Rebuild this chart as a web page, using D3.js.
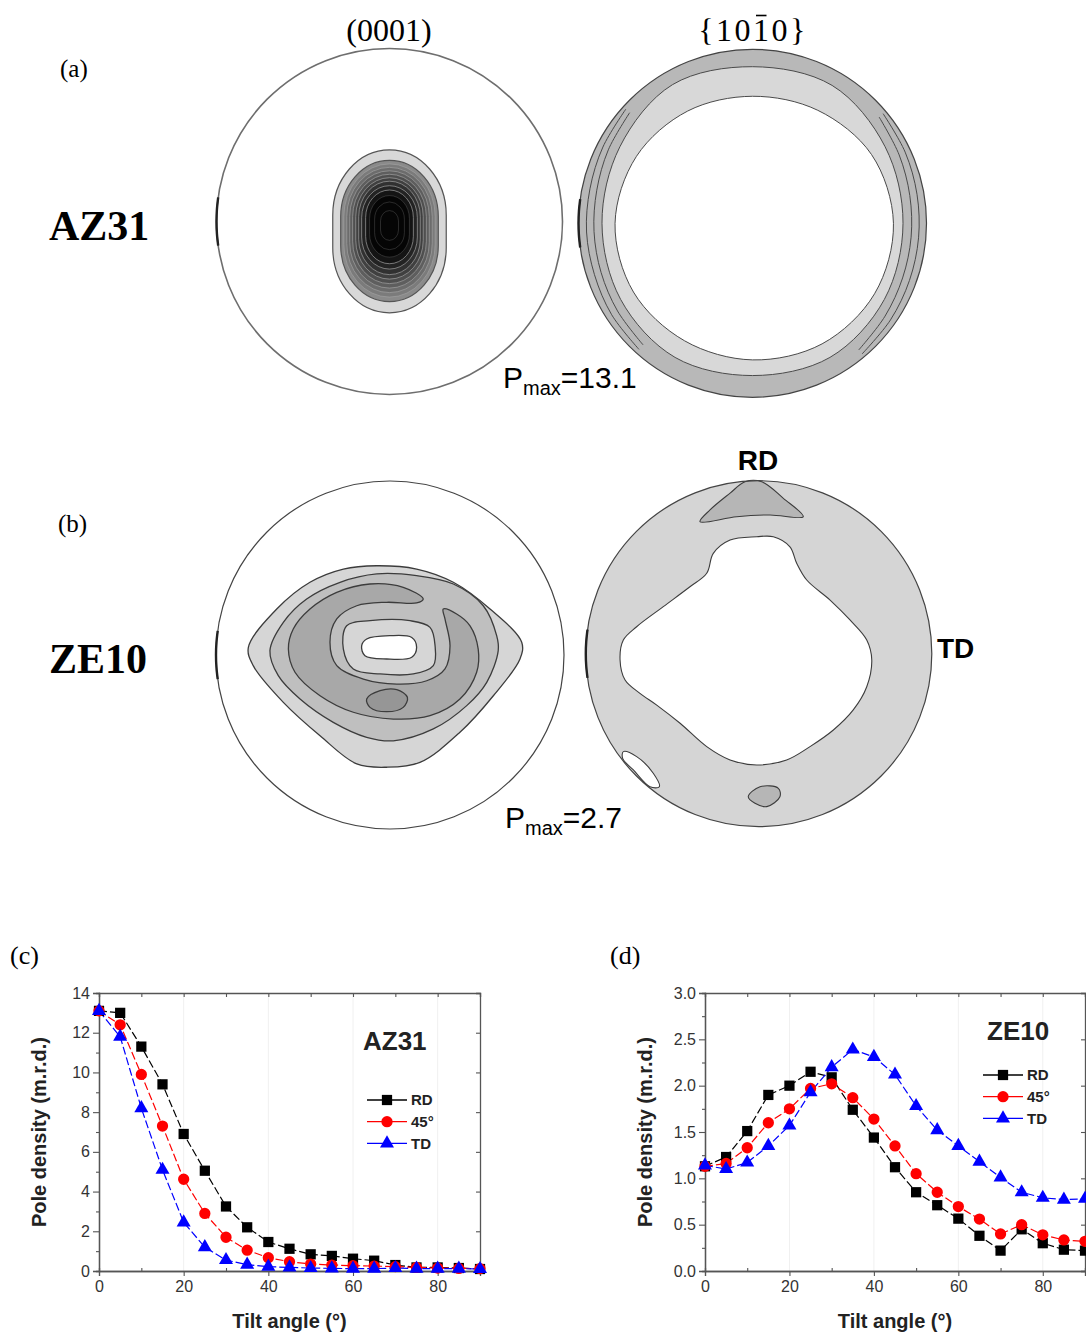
<!DOCTYPE html>
<html>
<head>
<meta charset="utf-8">
<script src="https://cdn.jsdelivr.net/npm/d3@7"></script>
<style>
  body { margin: 0; background: #fff; }
  svg { display: block; }
</style>
</head>
<body>
<div id="fig"></div>
<script>
// Pole figures (a, b) and pole density vs tilt angle curves (c, d)

const serif = "'Liberation Serif','Times New Roman',serif";
const sans = "'Liberation Sans',Arial,sans-serif";

// ---- (c)/(d) data: pole density (m.r.d.) vs tilt angle ----
const tiltAngles = [0, 5, 10, 15, 20, 25, 30, 35, 40, 45, 50, 55, 60, 65, 70, 75, 80, 85, 90];
const az31RD  = [13.1, 13.0, 11.3, 9.4, 6.9, 5.05, 3.25, 2.2, 1.46, 1.12, 0.84, 0.76, 0.62, 0.52, 0.30, 0.18, 0.18, 0.15, 0.10];
const az31D45 = [13.1, 12.4, 9.9, 7.3, 4.62, 2.9, 1.7, 1.05, 0.67, 0.47, 0.35, 0.30, 0.27, 0.25, 0.22, 0.18, 0.15, 0.13, 0.12];
const az31TD  = [13.1, 11.8, 8.2, 5.1, 2.45, 1.2, 0.55, 0.32, 0.22, 0.18, 0.15, 0.13, 0.12, 0.12, 0.15, 0.12, 0.12, 0.12, 0.10];
const ze10RD  = [1.13, 1.23, 1.51, 1.90, 2.00, 2.15, 2.09, 1.74, 1.44, 1.12, 0.85, 0.71, 0.565, 0.38, 0.22, 0.45, 0.30, 0.23, 0.22];
const ze10D45 = [1.13, 1.16, 1.33, 1.60, 1.75, 1.97, 2.02, 1.87, 1.64, 1.35, 1.05, 0.85, 0.695, 0.56, 0.40, 0.50, 0.39, 0.335, 0.32];
const ze10TD  = [1.14, 1.10, 1.17, 1.35, 1.57, 1.93, 2.20, 2.39, 2.31, 2.12, 1.78, 1.52, 1.35, 1.18, 1.01, 0.85, 0.79, 0.77, 0.78];

const seriesNames = ["RD", "45°", "TD"];
const seriesColors = ["#000000", "#ff0000", "#0000ff"];
const seriesSymbols = [d3.symbolSquare, d3.symbolCircle, d3.symbolTriangle];
const seriesSymbolSize = [105, 100, 85];

const tiltTicks = [0, 20, 40, 60, 80];
const tiltMinor = [10, 30, 50, 70, 90];
const az31YTicks = [0, 2, 4, 6, 8, 10, 12, 14];
const az31YMinor = [1, 3, 5, 7, 9, 11, 13];
const ze10YTicks = [0, 0.5, 1.0, 1.5, 2.0, 2.5, 3.0];
const ze10YMinor = [0.25, 0.75, 1.25, 1.75, 2.25, 2.75];

// ---- (a) AZ31 (0001): nested oval contours, units = pole figure radius ----
const az31BasalLevels = [1, 2, 3, 4, 5, 6, 7, 8, 9, 10, 11, 12, 13];
const az31BasalHalfW  = [0.328, 0.282, 0.264, 0.247, 0.230, 0.213, 0.195, 0.178, 0.161, 0.138, 0.115, 0.086, 0.052];
const az31BasalHalfH  = [0.471, 0.408, 0.385, 0.362, 0.339, 0.316, 0.293, 0.270, 0.241, 0.213, 0.178, 0.138, 0.086];
const az31BasalCy     = [0.057, 0.055, 0.052, 0.049, 0.046, 0.043, 0.040, 0.037, 0.034, 0.031, 0.028, 0.025, 0.023];

// ---- (a) AZ31 {10-10}: radial contours, angle from RD clockwise ----
const ringAngles     = [0, 30, 60, 90, 120, 150, 180, 210, 240, 270, 300, 330];
const az31PrismLight = [0.90, 0.915, 0.88, 0.865, 0.875, 0.89, 0.875, 0.89, 0.875, 0.865, 0.88, 0.92];
const az31PrismWhite = [0.73, 0.75, 0.79, 0.81, 0.81, 0.80, 0.785, 0.78, 0.79, 0.79, 0.77, 0.745];
const sideArcAngles  = [222, 237, 252, 267, 282, 297, 312];
const az31SideOuter  = [0.975, 0.965, 0.955, 0.955, 0.955, 0.965, 0.98];
const az31SideInner  = [0.94, 0.925, 0.915, 0.912, 0.915, 0.93, 0.95];
const sideArcAnglesR = [50, 65, 80, 95, 110, 125, 140];
const az31SideOuterR = [0.98, 0.968, 0.96, 0.958, 0.96, 0.968, 0.98];
const az31SideInnerR = [0.95, 0.93, 0.918, 0.915, 0.918, 0.93, 0.95];

// ---- (b) ZE10 (0001): contour outlines [x, y], units = radius ----
const ze10BasalOuter = [[-0.814,-0.044],[-0.786,0.061],[-0.613,0.272],[-0.402,0.464],[-0.191,0.626],[-0.019,0.645],
  [0.172,0.617],[0.402,0.444],[0.594,0.234],[0.747,0.023],[0.757,-0.073],[0.575,-0.264],[0.364,-0.418],
  [0.153,-0.494],[-0.076,-0.513],[-0.268,-0.494],[-0.460,-0.418],[-0.651,-0.264]];
const ze10BasalMid = [[-0.690,-0.025],[-0.642,0.119],[-0.517,0.253],[-0.326,0.387],[-0.134,0.473],[0.019,0.493],
  [0.249,0.425],[0.441,0.291],[0.556,0.157],[0.622,-0.025],[0.613,-0.111],[0.536,-0.283],[0.364,-0.408],
  [0.153,-0.456],[-0.076,-0.466],[-0.287,-0.418],[-0.479,-0.322],[-0.613,-0.188]];
const ze10BasalC = [[0.191,-0.322],[0.076,-0.389],[-0.115,-0.408],[-0.306,-0.360],[-0.460,-0.264],[-0.556,-0.149],
  [-0.584,-0.034],[-0.546,0.099],[-0.402,0.234],[-0.211,0.329],[0.019,0.368],[0.230,0.349],[0.402,0.253],
  [0.498,0.099],[0.507,-0.034],[0.460,-0.168],[0.383,-0.236],[0.306,-0.264],
  [0.316,-0.207],[0.345,-0.053],[0.316,0.080],[0.211,0.148],[0.039,0.167],[-0.153,0.138],[-0.306,0.061],
  [-0.345,-0.073],[-0.306,-0.207],[-0.191,-0.283],[-0.019,-0.303],[0.153,-0.299]];
const ze10BasalSpot = [[-0.134,0.253],[-0.057,0.205],[0.039,0.199],[0.100,0.243],[0.076,0.301],[-0.019,0.326],[-0.115,0.301]];
const ze10BasalRing = [[-0.249,-0.168],[-0.115,-0.197],[0.115,-0.197],[0.230,-0.159],[0.259,-0.053],[0.249,0.061],
  [0.134,0.109],[-0.057,0.109],[-0.211,0.080],[-0.268,-0.034]];
const ze10BasalHole = [[-0.134,-0.092],[0,-0.111],[0.125,-0.101],[0.153,-0.044],[0.125,0.013],[-0.019,0.023],[-0.144,0.004],[-0.163,-0.053]];

// ---- (b) ZE10 {10-10} ----
const ze10PrismWhite = [[-0.012,-0.676],[0.084,-0.676],[0.180,-0.618],[0.219,-0.523],[0.277,-0.426],[0.412,-0.310],
  [0.527,-0.195],[0.624,-0.079],[0.653,0.036],[0.624,0.191],[0.546,0.325],[0.431,0.441],[0.296,0.537],
  [0.161,0.614],[-0.012,0.643],[-0.166,0.614],[-0.301,0.537],[-0.455,0.402],[-0.590,0.297],[-0.687,0.229],
  [-0.773,0.152],[-0.802,0.036],[-0.783,-0.079],[-0.706,-0.156],[-0.552,-0.272],[-0.398,-0.387],
  [-0.301,-0.465],[-0.263,-0.580],[-0.166,-0.657]];
const ze10PrismRD = [[-0.080,-0.994],[0.017,-0.994],[0.142,-0.898],[0.257,-0.792],[0.065,-0.802],[-0.128,-0.792],
  [-0.340,-0.763],[-0.282,-0.831],[-0.166,-0.928]];
const ze10PrismSpot = [[-0.061,0.827],[0.007,0.769],[0.113,0.778],[0.122,0.827],[0.046,0.884],[-0.022,0.865]];
const ze10PrismHole = [[-0.783,0.566],[-0.706,0.595],[-0.610,0.691],[-0.575,0.769],[-0.629,0.769],[-0.725,0.672],[-0.787,0.605]];

// ---- Layout ----
const width = 1086, height = 1337;
const svg = d3.select("#fig").append("svg")
  .attr("width", width).attr("height", height)
  .attr("viewBox", [0, 0, width, height]);

const toRad = Math.PI / 180;
const radialPts = (angs, rs) => angs.map((a, i) => [rs[i] * Math.sin(a * toRad), -rs[i] * Math.cos(a * toRad)]);

function poleFigure(cx, cy, r, fill) {
  const g = svg.append("g");
  const sx = d3.scaleLinear([-1, 1], [cx - r, cx + r]);
  const sy = d3.scaleLinear([-1, 1], [cy - r, cy + r]);
  const closed = d3.line().x(d => sx(d[0])).y(d => sy(d[1])).curve(d3.curveCatmullRomClosed.alpha(0.5));
  const open = d3.line().x(d => sx(d[0])).y(d => sy(d[1])).curve(d3.curveCatmullRom.alpha(0.5));
  g.append("circle").attr("cx", sx(0)).attr("cy", sy(0)).attr("r", sx(1) - sx(0))
    .attr("fill", fill);
  return { g, sx, sy, closed, open };
}

function outline(pf, color, w) {
  pf.g.append("circle").attr("cx", pf.sx(0)).attr("cy", pf.sy(0)).attr("r", pf.sx(1) - pf.sx(0))
    .attr("fill", "none").attr("stroke", color).attr("stroke-width", w);
  // small marker on the left edge
  pf.g.append("path")
    .attr("d", pf.open(radialPts([262, 266, 270, 274, 278], [1, 1, 1, 1, 1])))
    .attr("fill", "none").attr("stroke", "#222").attr("stroke-width", 2.4);
}

const lineCol = "#4a4a4a";

// (a) AZ31 (0001)
{
  const pf = poleFigure(389.5, 221.5, 173, "#ffffff");
  const fill = d3.scaleLinear([2, 11], ["#8a8a8a", "#050505"]).clamp(true);
  az31BasalLevels.forEach((lv, i) => {
    const hw = az31BasalHalfW[i], hh = az31BasalHalfH[i], cyy = az31BasalCy[i];
    const w = pf.sx(hw) - pf.sx(0);
    pf.g.append("rect")
      .attr("x", pf.sx(-hw)).attr("y", pf.sy(cyy - hh))
      .attr("width", 2 * w).attr("height", pf.sy(cyy + hh) - pf.sy(cyy - hh))
      .attr("rx", w).attr("ry", w * 1.15)
      .attr("fill", lv === 1 ? "#d8d8d8" : fill(lv))
      .attr("stroke", lv <= 2 ? "#555" : "#a0a0a0")
      .attr("stroke-width", lv <= 2 ? 1.2 : 0.7)
      .attr("stroke-opacity", lv >= 11 ? 0.35 : 1);
  });
  outline(pf, "#6e6e6e", 1.6);
}

// (a) AZ31 {10-10}
{
  const pf = poleFigure(752.5, 223.3, 174, "#b8b8b8");
  pf.g.append("path").attr("d", pf.closed(radialPts(ringAngles, az31PrismLight)))
    .attr("fill", "#d8d8d8").attr("stroke", lineCol).attr("stroke-width", 1);
  pf.g.append("path").attr("d", pf.closed(radialPts(ringAngles, az31PrismWhite)))
    .attr("fill", "#ffffff").attr("stroke", lineCol).attr("stroke-width", 1);
  [[sideArcAngles, az31SideOuter], [sideArcAngles, az31SideInner],
   [sideArcAnglesR, az31SideOuterR], [sideArcAnglesR, az31SideInnerR]].forEach(([a, rr]) => {
    pf.g.append("path").attr("d", pf.open(radialPts(a, rr)))
      .attr("fill", "none").attr("stroke", lineCol).attr("stroke-width", 1);
  });
  outline(pf, "#444", 1.2);
}

// (b) ZE10 (0001)
{
  const pf = poleFigure(390, 655, 174, "#ffffff");
  const layers = [
    [ze10BasalOuter, "#d6d6d6"], [ze10BasalMid, "#bfbfbf"], [ze10BasalC, "#a8a8a8"],
    [ze10BasalSpot, "#969696"], [ze10BasalRing, "#d6d6d6"], [ze10BasalHole, "#ffffff"]
  ];
  layers.forEach(([pts, c]) => {
    pf.g.append("path").attr("d", pf.closed(pts))
      .attr("fill", c).attr("stroke", "#3c3c3c").attr("stroke-width", 1.3);
  });
  outline(pf, "#444", 1.2);
}

// (b) ZE10 {10-10}
{
  const pf = poleFigure(758.8, 653.7, 173, "#d5d5d5");
  const layers = [
    [ze10PrismWhite, "#ffffff"], [ze10PrismRD, "#b6b6b6"], [ze10PrismSpot, "#b6b6b6"], [ze10PrismHole, "#ffffff"]
  ];
  layers.forEach(([pts, c]) => {
    pf.g.append("path").attr("d", pf.closed(pts))
      .attr("fill", c).attr("stroke", "#3c3c3c").attr("stroke-width", 1.1);
  });
  outline(pf, "#444", 1.2);
}

// ---- Pole figure texts ----
svg.append("text").attr("x", 389).attr("y", 41).attr("text-anchor", "middle")
  .attr("font-family", serif).attr("font-size", 32).text("(0001)");

const hkl = svg.append("text").attr("x", 753).attr("y", 41).attr("text-anchor", "middle")
  .attr("font-family", serif).attr("font-size", 32).attr("letter-spacing", 2.5).text("{1010}");
{
  const b = hkl.node().getExtentOfChar(3);
  svg.append("line").attr("x1", b.x + 3).attr("x2", b.x + b.width - 5)
    .attr("y1", 15.5).attr("y2", 15.5).attr("stroke", "#000").attr("stroke-width", 1.6);
}

svg.append("text").attr("x", 60).attr("y", 77).attr("font-family", serif).attr("font-size", 25).text("(a)");
svg.append("text").attr("x", 58).attr("y", 532).attr("font-family", serif).attr("font-size", 25).text("(b)");
svg.append("text").attr("x", 49).attr("y", 240).attr("font-family", serif).attr("font-size", 42)
  .attr("font-weight", "bold").text("AZ31");
svg.append("text").attr("x", 49).attr("y", 673).attr("font-family", serif).attr("font-size", 42)
  .attr("font-weight", "bold").text("ZE10");

function pmax(x, y, val) {
  const t = svg.append("text").attr("x", x).attr("y", y).attr("font-family", sans).attr("font-size", 30);
  t.append("tspan").text("P");
  t.append("tspan").attr("font-size", 20).attr("dy", 7).text("max");
  t.append("tspan").attr("dy", -7).text("=" + val);
}
pmax(503, 388, "13.1");
pmax(505, 828, "2.7");

svg.append("text").attr("x", 758).attr("y", 470).attr("text-anchor", "middle")
  .attr("font-family", sans).attr("font-size", 28).attr("font-weight", "bold").text("RD");
svg.append("text").attr("x", 937).attr("y", 658)
  .attr("font-family", sans).attr("font-size", 28).attr("font-weight", "bold").text("TD");

// ---- Line charts ----
function lineChart({ x0, x1, yMax, yTicks, yMinor, yFmt, series, label, labelX, labelY, legX, legY, panel, panelX }) {
  const top = 993, bottom = 1271;
  const x = d3.scaleLinear([0, 90], [x0, x1]);
  const y = d3.scaleLinear([0, yMax], [bottom, top]);
  const g = svg.append("g");
  const axisColor = "#555";

  // faint vertical grid at major ticks
  g.append("g").selectAll("line").data(tiltTicks.slice(1)).join("line")
    .attr("x1", d => x(d)).attr("x2", d => x(d)).attr("y1", top).attr("y2", bottom)
    .attr("stroke", "#f0f0f0").attr("stroke-width", 1);

  // frame
  g.append("g").attr("transform", `translate(0,${bottom})`)
    .call(d3.axisBottom(x).tickValues(tiltTicks).tickSize(5).tickPadding(5).tickFormat(d3.format("d")));
  g.append("g").attr("transform", `translate(0,${bottom})`)
    .call(d3.axisTop(x).tickValues(tiltMinor).tickSize(3).tickFormat(""));
  g.append("g").attr("transform", `translate(${x0},0)`)
    .call(d3.axisLeft(y).tickValues(yTicks).tickSize(6).tickPadding(3).tickFormat(yFmt));
  g.append("g").attr("transform", `translate(${x0},0)`)
    .call(d3.axisLeft(y).tickValues(yMinor).tickSize(3).tickFormat(""));
  g.append("g").attr("transform", `translate(0,${top})`)
    .call(d3.axisBottom(x).tickValues(tiltTicks.concat(tiltMinor)).tickSize(4).tickFormat(""));
  g.append("g").attr("transform", `translate(${x1},0)`)
    .call(d3.axisLeft(y).tickValues(yTicks).tickSize(4).tickFormat(""));
  g.selectAll(".domain").attr("stroke", axisColor).attr("stroke-width", 1.3);
  g.selectAll(".tick line").attr("stroke", axisColor).attr("stroke-width", 1.1);
  g.selectAll(".tick text").attr("font-family", sans).attr("font-size", 16).attr("fill", "#333");

  const line = d3.line().x((d, i) => x(tiltAngles[i])).y(d => y(d));
  series.forEach((vals, k) => {
    g.append("path").attr("d", line(vals)).attr("fill", "none")
      .attr("stroke", seriesColors[k]).attr("stroke-width", 1.2).attr("stroke-dasharray", "8,3");
  });
  series.forEach((vals, k) => {
    g.append("g").selectAll("path").data(vals).join("path")
      .attr("transform", (d, i) => `translate(${x(tiltAngles[i])},${y(d)})`)
      .attr("d", d3.symbol(seriesSymbols[k], seriesSymbolSize[k]))
      .attr("fill", seriesColors[k]);
  });

  // legend
  seriesNames.forEach((name, k) => {
    const ly = legY + k * 21.7;
    g.append("line").attr("x1", legX).attr("x2", legX + 40).attr("y1", ly).attr("y2", ly)
      .attr("stroke", seriesColors[k]).attr("stroke-width", 1.3);
    g.append("path").attr("transform", `translate(${legX + 20},${ly})`)
      .attr("d", d3.symbol(seriesSymbols[k], seriesSymbolSize[k]))
      .attr("fill", seriesColors[k]);
    g.append("text").attr("x", legX + 44).attr("y", ly).attr("dy", "0.36em")
      .attr("font-family", sans).attr("font-size", 15).attr("font-weight", "bold").attr("fill", "#222")
      .text(name);
  });

  g.append("text").attr("x", labelX).attr("y", labelY)
    .attr("font-family", sans).attr("font-size", 26).attr("font-weight", "bold").attr("fill", "#222").text(label);

  g.append("text").attr("transform", `translate(${x0 - 53},${(top + bottom) / 2}) rotate(-90)`)
    .attr("text-anchor", "middle").attr("font-family", sans).attr("font-size", 20)
    .attr("font-weight", "bold").attr("fill", "#222").text("Pole density (m.r.d.)");
  g.append("text").attr("x", (x(0) + x(90)) / 2).attr("y", 1328).attr("text-anchor", "middle")
    .attr("font-family", sans).attr("font-size", 20).attr("font-weight", "bold").attr("fill", "#222")
    .text("Tilt angle (°)");
  svg.append("text").attr("x", panelX).attr("y", 964).attr("font-family", serif).attr("font-size", 26).text(panel);
}

lineChart({
  x0: 99, x1: 480, yMax: 14, yTicks: az31YTicks, yMinor: az31YMinor, yFmt: d3.format("d"),
  series: [az31RD, az31D45, az31TD], label: "AZ31", labelX: 363, labelY: 1050,
  legX: 367, legY: 1100, panel: "(c)", panelX: 10
});
lineChart({
  x0: 705, x1: 1085, yMax: 3, yTicks: ze10YTicks, yMinor: ze10YMinor, yFmt: d3.format(".1f"),
  series: [ze10RD, ze10D45, ze10TD], label: "ZE10", labelX: 987, labelY: 1040,
  legX: 983, legY: 1075, panel: "(d)", panelX: 610
});
</script>
</body>
</html>
